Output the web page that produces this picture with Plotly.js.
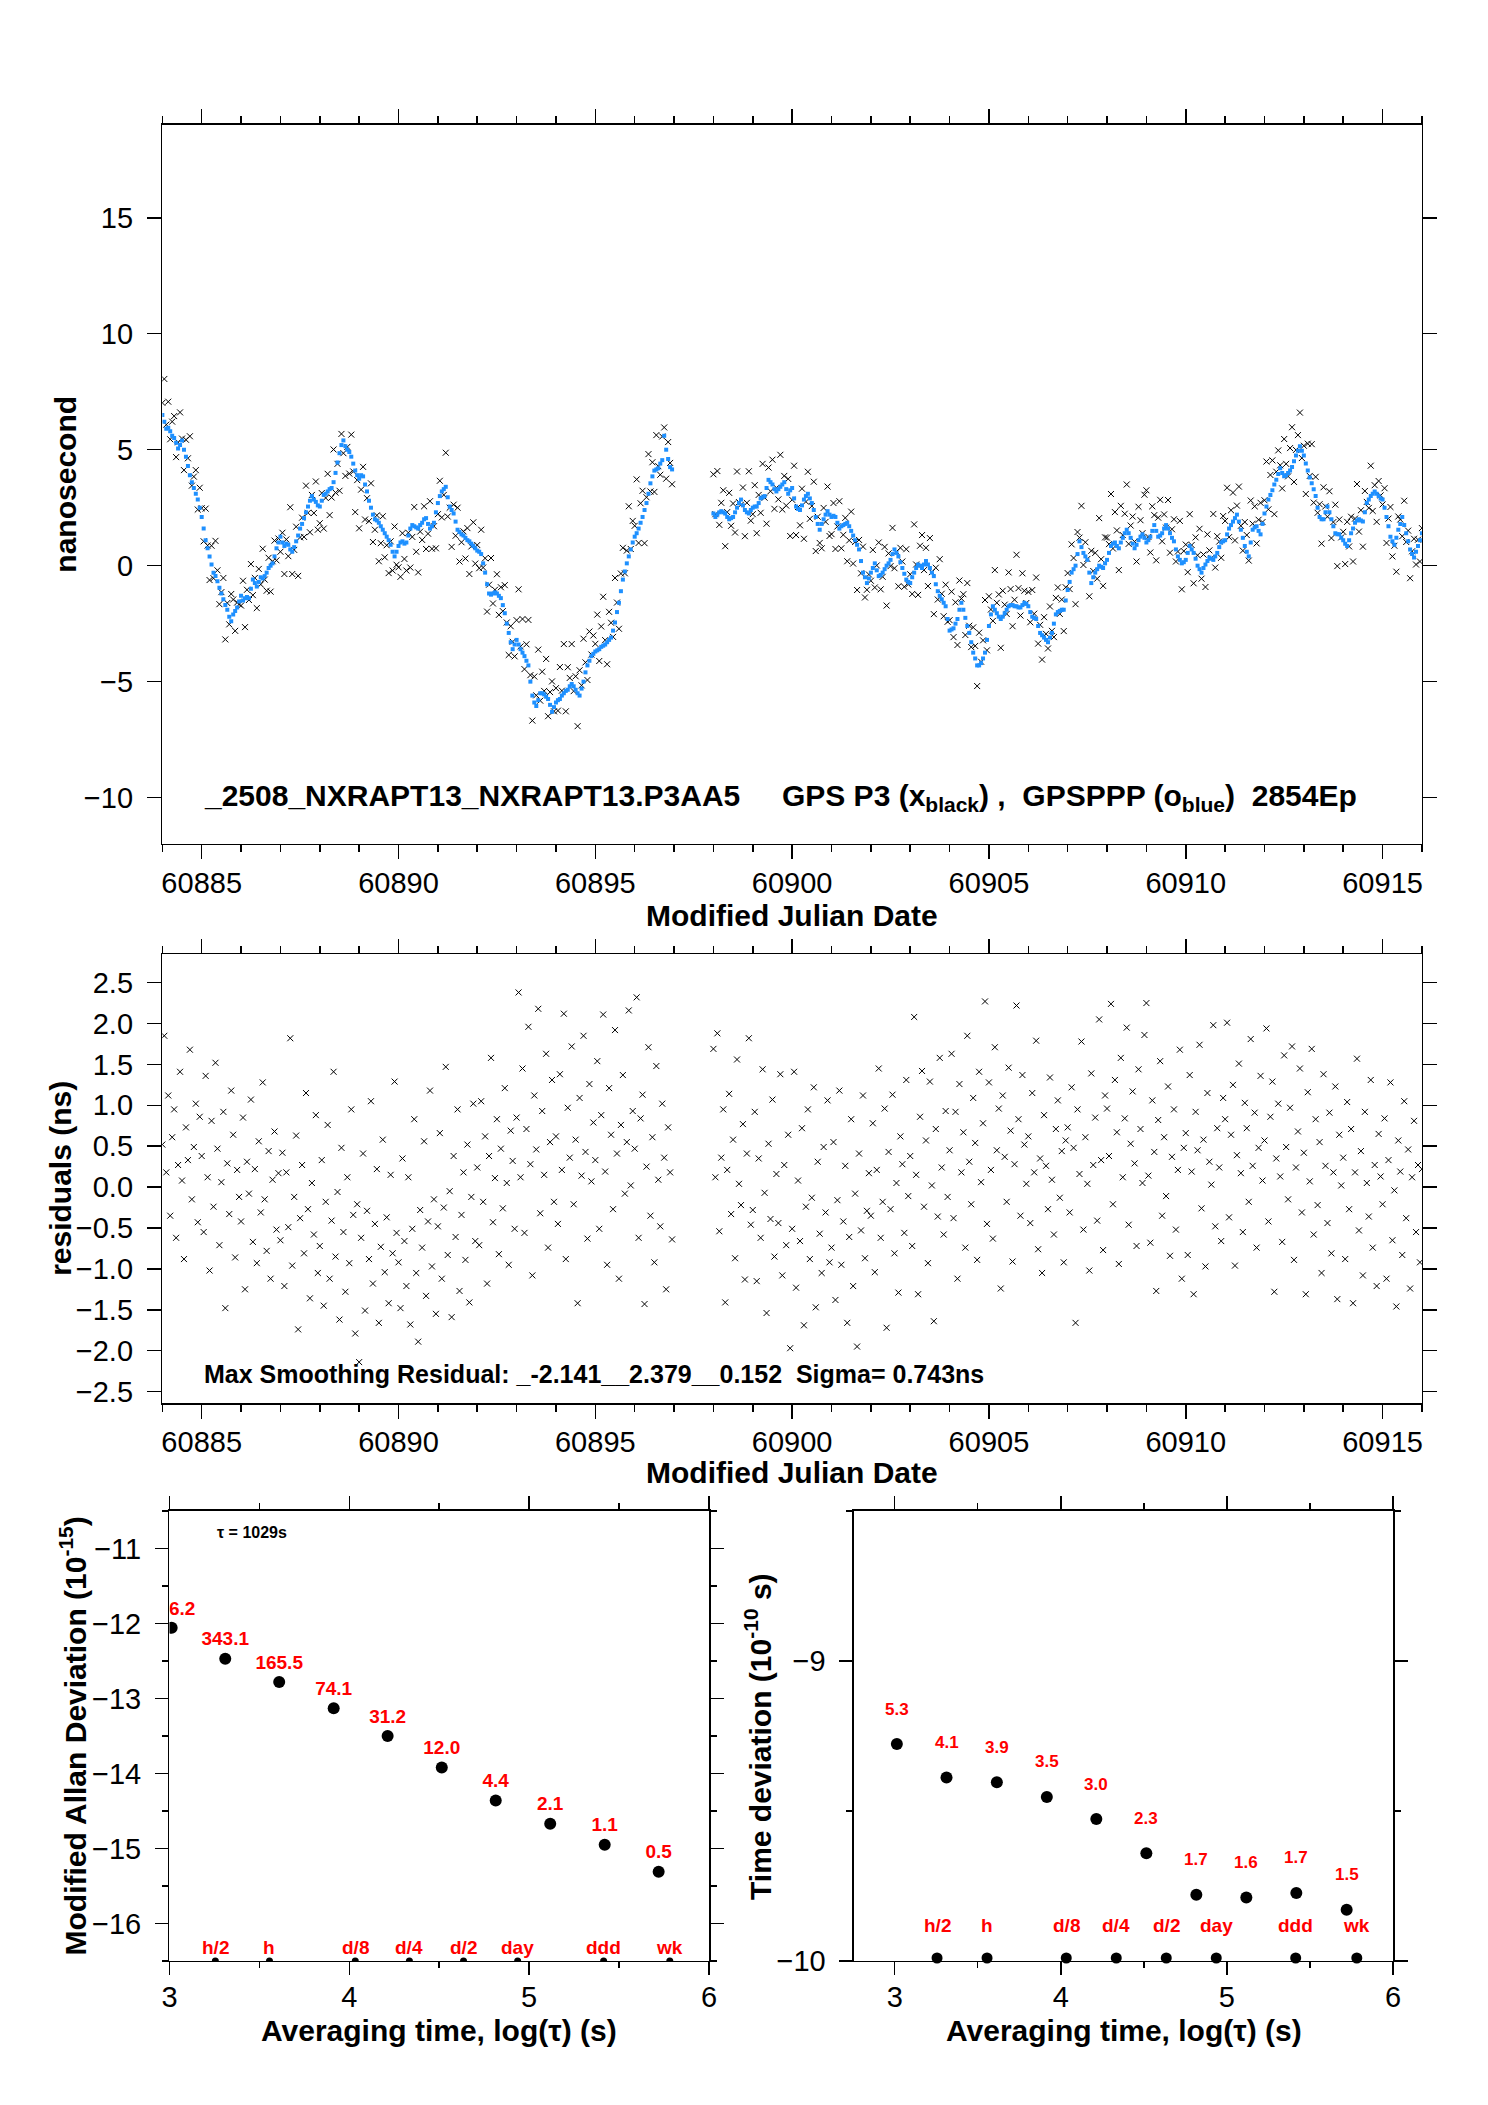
<!DOCTYPE html>
<html><head><meta charset="utf-8">
<script src="https://cdn.plot.ly/plotly-3.0.1.min.js"></script>
<style>html,body{margin:0;padding:0;background:#fff}#chart{width:1488px;height:2105px}</style>
</head><body><div id="chart"></div>
<script>
// ---------- DATA ----------
// epochs: two continuous segments sampled every 0.05 d (gap between them)
const epochStepDays = 0.05;
const segmentStartMJD = [60884.0, 60898.0];

// GPSPPP (blue) clock offset, ns, segment A (60884.00 .. 60896.95)
const gpsPPP_A = [
6.5,6.2,5.9,5.95,5.8,5.6,5.5,5.3,5.05,5.2,5.4,5.0,4.7,4.3,3.9,3.6,3.35,3.1,2.85,2.5,
2.1,1.6,1.1,0.75,0.4,0.05,-0.3,-0.45,-0.67,-0.95,-1.2,-1.45,-1.7,-1.9,-2.2,-2.4,-2.1,-1.95,-1.8,-1.55,
-1.3,-1.5,-1.4,-1.35,-1.4,-1.0,-0.6,-0.75,-0.9,-0.7,-0.5,-0.55,-0.45,-0.3,-0.1,0.0,0.1,0.4,0.75,1.0,
1.25,1.0,0.85,0.95,0.9,0.7,0.6,0.8,1.05,1.3,1.6,1.8,2.05,2.3,2.55,2.8,3.0,2.85,2.75,2.6,
2.55,2.8,3.05,3.1,3.2,3.3,3.35,3.6,4.0,4.45,4.85,5.2,5.4,5.15,5.0,4.9,4.7,4.4,4.1,3.9,
3.75,3.9,3.85,3.5,3.2,2.8,2.5,2.2,2.0,1.95,1.85,1.7,1.55,1.4,1.25,1.1,0.9,0.6,0.4,0.6,
0.85,1.0,1.05,0.95,1.0,1.3,1.6,1.75,1.7,1.65,1.6,1.75,1.85,2.0,2.05,1.8,1.6,1.7,1.85,2.3,
2.7,3.0,3.2,3.3,3.4,2.95,2.55,2.4,2.25,1.9,1.55,1.45,1.35,1.3,1.2,1.1,1.05,0.95,0.85,0.75,
0.65,0.6,0.5,0.1,-0.3,-0.8,-1.2,-1.25,-1.2,-1.15,-1.2,-1.3,-1.4,-1.7,-2.05,-2.5,-2.9,-3.3,-3.6,-3.4,
-3.2,-3.4,-3.6,-3.75,-3.9,-4.1,-4.3,-5.0,-5.6,-5.9,-6.05,-5.8,-5.5,-5.5,-5.55,-5.65,-5.75,-6.0,-6.3,-6.1,
-5.9,-5.8,-5.75,-5.6,-5.5,-5.4,-5.35,-5.2,-5.1,-5.2,-5.35,-5.5,-5.6,-5.3,-5.0,-4.6,-4.3,-4.1,-3.9,-3.8,
-3.7,-3.65,-3.6,-3.5,-3.45,-3.4,-3.3,-3.2,-3.1,-2.8,-2.45,-2.0,-1.6,-1.1,-0.6,-0.25,0.1,0.4,0.7,1.0,
1.25,1.4,1.6,1.85,2.1,2.4,2.7,3.1,3.55,3.85,4.1,4.15,4.2,4.4,4.55,5.6,5.0,4.6,4.25,4.15
];
// GPSPPP (blue), segment B (60898.00 .. 60916.00)
const gpsPPP_B = [
2.25,2.1,2.2,2.3,2.35,2.3,2.25,2.1,2.0,2.05,2.1,2.3,2.5,2.7,2.85,2.6,2.4,2.3,2.25,2.4,
2.5,2.55,2.55,2.7,2.9,2.95,3.0,3.35,3.7,3.6,3.5,3.3,3.2,3.3,3.4,3.5,3.6,3.3,3.1,3.25,
3.35,2.9,2.55,2.45,2.4,2.6,2.85,3.0,3.1,2.9,2.7,2.4,2.1,1.8,1.55,1.8,2.0,2.2,2.35,2.2,
2.1,2.15,2.1,1.85,1.6,1.7,1.75,1.8,1.85,1.7,1.5,1.3,1.1,0.9,0.7,0.2,-0.3,-0.5,-0.75,-0.55,
-0.3,-0.1,0.1,-0.2,-0.45,-0.4,-0.3,-0.15,0.0,0.1,0.25,0.5,0.7,0.55,0.4,0.15,-0.1,-0.35,-0.6,-0.7,
-0.75,-0.5,-0.3,-0.1,0.05,0.0,-0.1,0.05,0.2,0.05,-0.1,-0.3,-0.45,-0.8,-1.1,-1.3,-1.45,-1.6,-1.75,-2.3,
-2.8,-2.75,-2.7,-2.5,-2.3,-1.9,-1.6,-1.9,-2.25,-2.6,-2.9,-3.3,-3.75,-4.0,-4.3,-4.3,-4.2,-4.0,-3.75,-3.2,
-2.6,-2.1,-1.75,-1.9,-2.05,-2.2,-2.3,-2.2,-2.05,-1.9,-1.75,-1.7,-1.7,-1.75,-1.75,-1.8,-1.8,-1.7,-1.6,-1.65,
-1.75,-2.0,-2.2,-2.25,-2.3,-2.6,-2.9,-3.0,-3.1,-3.2,-3.3,-3.1,-2.9,-2.5,-2.1,-2.0,-1.95,-1.9,-1.9,-1.5,
-1.05,-0.7,-0.3,-0.15,0.0,0.5,1.05,0.8,0.55,0.4,0.25,-0.3,-0.75,-0.5,-0.3,-0.15,0.0,-0.05,-0.1,0.1,
0.25,0.55,0.85,0.95,1.0,0.85,0.75,1.0,1.2,1.4,1.55,1.4,1.2,0.95,0.75,0.9,1.1,1.25,1.35,1.2,
1.0,1.1,1.25,1.5,1.75,1.5,1.25,1.3,1.4,1.6,1.75,1.6,1.4,1.2,1.05,0.7,0.4,0.25,0.1,0.15,
0.25,0.55,0.85,0.7,0.55,0.3,0.0,-0.15,-0.3,-0.1,0.05,0.2,0.35,0.3,0.25,0.4,0.55,0.8,1.0,1.05,
1.1,1.35,1.6,1.75,1.9,2.05,2.2,1.9,1.55,1.2,0.85,0.6,0.4,1.0,1.55,1.65,1.7,1.5,1.35,1.8,
2.25,2.55,2.85,3.05,3.25,3.5,3.7,3.95,4.2,4.0,3.85,3.9,4.0,4.1,4.25,4.5,4.75,4.95,5.15,4.95,
4.75,4.4,4.1,3.8,3.55,3.3,3.0,2.5,2.1,2.0,2.0,2.3,2.55,2.3,2.0,1.7,1.4,1.35,1.35,1.2,
1.1,0.95,0.85,1.1,1.4,1.6,1.85,1.95,2.0,1.95,1.9,2.3,2.7,2.85,3.0,3.1,3.2,3.1,3.0,2.9,
2.85,2.5,2.1,1.7,1.25,1.05,0.9,1.2,1.55,1.8,2.1,1.75,1.4,1.05,0.7,0.5,0.35,0.6,0.85,1.1,
1.4
];
// smoothing residuals (GPS P3 minus smoothed), ns, segment A
const resid_A = [
0.52,1.85,0.18,1.12,-0.35,0.61,0.95,-0.62,0.27,1.41,0.08,-0.88,0.73,0.33,1.68,-0.15,0.49,1.02,-0.43,0.86,
0.38,-0.55,1.36,0.12,-1.02,0.81,-0.24,1.52,0.47,-0.71,0.06,0.92,-1.48,0.29,-0.33,1.18,0.64,-0.86,0.21,-0.12,
-0.42,0.85,-1.25,0.31,-0.08,1.07,-0.67,0.22,-0.93,0.56,-0.31,1.28,-0.15,-0.78,0.44,-1.12,0.09,0.68,-0.52,0.17,
-0.65,0.42,-1.21,0.18,-0.49,1.82,-0.96,-0.12,0.63,-1.74,-0.38,0.27,-0.81,1.15,-0.27,-1.36,0.05,-0.58,0.88,-1.05,
-0.72,0.33,-1.45,-0.18,0.76,-1.12,-0.41,1.41,-0.85,-0.06,-1.62,0.48,-0.55,-1.28,0.12,-0.93,0.95,-0.34,-1.79,-0.21,
-2.14,-0.62,0.41,-1.51,-0.29,-0.88,1.05,-1.18,-0.45,0.22,-1.66,-0.73,0.58,-1.04,-0.37,-1.42,0.15,-0.81,1.29,-0.56,
-0.92,-1.48,0.35,-0.66,-1.21,0.12,-1.68,-0.51,0.83,-1.05,-1.89,-0.28,-0.74,0.56,-1.33,-0.42,1.18,-0.97,-0.15,-1.55,
-0.48,0.66,-1.12,-0.25,1.47,-0.83,-0.05,-1.59,0.38,-0.61,0.95,-1.27,-0.34,0.18,-0.89,0.52,-1.41,-0.12,1.02,-0.66,
0.24,-0.71,1.05,-0.18,0.62,-1.18,0.38,1.58,-0.43,0.11,0.83,-0.82,0.47,-0.26,1.21,0.05,-0.95,0.69,0.32,-0.51,
0.85,2.38,0.12,1.45,-0.56,0.71,1.96,0.28,-1.08,1.12,0.46,2.18,-0.32,0.93,0.15,1.63,-0.74,0.55,1.31,-0.18,
0.62,-0.45,1.38,0.21,2.12,-0.88,0.97,0.36,1.72,-0.21,0.58,-1.42,1.09,0.14,1.85,0.43,-0.63,1.26,0.07,0.79,
0.33,1.54,-0.51,0.88,2.11,0.19,-0.95,1.21,0.64,-0.27,1.92,0.41,-1.12,0.76,1.37,-0.08,0.55,2.16,0.02,0.93,
0.47,2.32,-0.62,0.84,1.13,-1.43,0.25,1.71,-0.35,0.61,-0.92,1.48,0.09,-0.48,1.02,0.36,-1.25,0.73,0.18,-0.64
];
// smoothing residuals, segment B
const resid_B = [
1.69,0.12,1.88,-0.54,0.36,0.95,-1.41,0.21,1.14,-0.33,0.58,-0.87,1.56,0.04,-0.22,0.77,-1.13,0.41,1.82,-0.46,
-0.28,0.92,-1.15,0.35,-0.62,1.44,-0.07,-1.54,0.53,-0.39,1.07,-0.85,0.16,-0.44,1.38,-1.08,0.27,-0.71,0.64,-1.97,
-0.51,1.41,-1.23,0.08,-0.66,0.72,-1.69,-0.24,0.95,-0.88,-0.13,1.22,-1.47,0.31,-0.57,-1.05,0.49,-0.31,1.06,-0.92,
-0.74,0.55,-1.38,-0.16,1.18,-0.95,-0.42,0.26,-1.66,-0.61,0.83,-1.21,-0.08,-1.95,0.41,-0.53,1.12,-0.87,-0.29,0.17,
-0.35,0.78,-1.04,0.21,1.45,-0.62,-0.18,0.96,-1.72,0.43,-0.27,1.13,-0.81,0.05,-1.29,0.62,0.28,-0.56,1.31,-0.11,
0.38,-0.72,2.08,0.15,-1.31,0.86,1.42,-0.24,0.57,-0.93,1.29,0.02,-1.64,0.71,-0.36,1.58,0.24,-0.58,0.93,-0.12,
0.45,1.63,-0.38,0.92,-1.12,1.26,0.18,0.67,-0.74,1.85,0.31,-0.21,1.09,0.54,-0.89,1.41,0.06,0.78,2.27,-0.45,
1.28,0.21,-0.63,1.71,0.45,0.96,-1.24,1.12,0.37,-0.18,1.46,0.69,-0.91,0.28,2.22,0.83,-0.35,1.37,0.52,0.04,
0.62,-0.44,1.15,0.18,1.79,-0.76,0.35,-1.05,0.88,0.26,-0.27,1.34,0.09,-0.58,0.71,1.06,-0.13,0.44,-0.92,0.57,
0.73,-0.31,1.22,0.48,-1.66,0.95,0.16,1.78,-0.52,0.61,0.04,-1.02,1.39,0.27,0.85,-0.41,2.05,0.33,-0.77,1.12,
0.96,0.38,2.24,-0.21,1.31,0.67,-0.94,1.58,0.12,0.84,1.95,-0.46,0.53,1.17,0.29,-0.72,1.44,0.71,0.05,1.86,
2.25,0.14,-0.68,1.06,0.43,-1.27,0.82,1.54,-0.35,0.61,-0.11,1.23,-0.84,0.37,0.95,-0.52,0.21,1.68,-1.12,0.48,
0.66,-0.83,1.37,0.19,-1.31,0.92,0.45,1.74,-0.26,0.58,-0.97,1.15,0.31,0.03,1.98,-0.48,0.72,0.24,-0.66,1.09,
0.83,2.01,-0.37,0.64,1.25,-0.96,0.39,1.51,0.17,-0.55,1.03,0.72,-0.18,1.81,0.26,0.91,-0.74,0.48,1.36,0.08,
0.57,1.94,-0.42,0.86,1.29,-1.28,0.35,1.02,0.13,-0.67,1.61,0.49,-0.15,0.97,1.72,-0.89,0.24,0.68,1.45,-0.31,
0.42,-1.31,1.16,0.07,1.69,-0.58,0.83,-0.22,0.55,-1.05,1.38,0.26,-0.44,0.91,-0.81,0.18,1.23,-1.37,0.64,0.02,
0.36,-0.88,1.04,-0.27,0.71,-1.42,0.18,1.57,-0.53,0.44,-1.08,0.92,0.05,-0.36,1.31,-0.74,0.27,-1.21,0.65,0.13,
-0.21,0.84,-1.12,0.33,1.28,-0.65,-0.04,-1.46,0.57,0.19,-0.83,1.05,-0.38,0.46,-1.24,0.12,0.81,-0.55,0.27,-0.92,
0.22
];

// Modified Allan deviation panel
const madevLogTau = [3.012, 3.31, 3.61, 3.913, 4.213, 4.514, 4.814, 5.117, 5.42, 5.72];
const madevLog = [-12.057, -12.47, -12.78, -13.13, -13.50, -13.92, -14.36, -14.67, -14.95, -15.31];
const madevLabels = ['876.2','343.1','165.5','74.1','31.2','12.0','4.4','2.1','1.1','0.5'];

// Time deviation panel
const tdevLogTau = [3.013, 3.312, 3.615, 3.916, 4.214, 4.515, 4.816, 5.117, 5.418, 5.721];
const tdevLog = [-9.277, -9.388, -9.404, -9.453, -9.527, -9.641, -9.779, -9.788, -9.773, -9.829];
const tdevLabels = ['5.3','4.1','3.9','3.5','3.0','2.3','1.7','1.6','1.7','1.5'];

// reference averaging-time markers
const refLogTau = [3.255, 3.556, 4.033, 4.334, 4.635, 4.936, 5.414, 5.782];
const refLabels = ['h/2','h','d/8','d/4','d/2','day','ddd','wk'];

// x-axis tick values (labels)
const mjdTicks = [60885, 60890, 60895, 60900, 60905, 60910, 60915];

// ---------- BUILD ----------
const FONT = 'Liberation Sans, Arial, Helvetica, sans-serif';
function buildTimes(start, n){ const t=[]; for(let i=0;i<n;i++) t.push(Math.round((start + i*epochStepDays)*1000)/1000); return t; }
const nA = Math.min(gpsPPP_A.length, resid_A.length);
const nB = Math.min(gpsPPP_B.length, resid_B.length);
const tA = buildTimes(segmentStartMJD[0], nA);
const tB = buildTimes(segmentStartMJD[1], nB);
const tAll = tA.concat(tB);
const pppAll = gpsPPP_A.slice(0,nA).concat(gpsPPP_B.slice(0,nB));
const residAll = resid_A.slice(0,nA).concat(resid_B.slice(0,nB));
const p3All = pppAll.map((v,i)=> Math.round((v + residAll[i])*1000)/1000);

const traces = [
  {x:tAll, y:p3All, xaxis:'x', yaxis:'y', type:'scatter', mode:'markers',
   marker:{symbol:'x-thin', size:6, color:'black', line:{color:'black', width:1}}, cliponaxis:true},
  {x:tAll, y:pppAll, xaxis:'x', yaxis:'y', type:'scatter', mode:'markers',
   marker:{symbol:'square', size:4, color:'#1e90ff', line:{width:0}}, cliponaxis:true},
  {x:tAll, y:residAll, xaxis:'x2', yaxis:'y2', type:'scatter', mode:'markers',
   marker:{symbol:'x-thin', size:6, color:'black', line:{color:'black', width:1}}, cliponaxis:true},
  {x:madevLogTau, y:madevLog, xaxis:'x3', yaxis:'y3', type:'scatter', mode:'markers+text',
   text:madevLabels, textposition:'top center',
   textfont:{family:FONT, size:19, color:'#ff0000', weight:'bold'},
   marker:{symbol:'circle', size:12, color:'black'}, cliponaxis:true},
  {x:refLogTau, y:refLogTau.map(()=> -16.5), xaxis:'x3', yaxis:'y3', type:'scatter', mode:'markers',
   marker:{symbol:'circle', size:7, color:'black'}, cliponaxis:true},
  {x:tdevLogTau, y:tdevLog, xaxis:'x4', yaxis:'y4', type:'scatter', mode:'markers',
   marker:{symbol:'circle', size:12, color:'black'}, cliponaxis:true},
  {x:refLogTau, y:refLogTau.map(()=> -9.99), xaxis:'x4', yaxis:'y4', type:'scatter', mode:'markers',
   marker:{symbol:'circle', size:11, color:'black'}, cliponaxis:false}
];

function ax(extra){
  return Object.assign({showline:true, linecolor:'black', linewidth:1.5, mirror:'ticks',
    ticks:'outside', tickcolor:'black', tickwidth:1.5, showgrid:false, zeroline:false,
    tickfont:{family:FONT, size:29, color:'black'}, fixedrange:true}, extra);
}
const minorMJD = {tick0:60884, dtick:1, ticklen:7, ticks:'outside', tickcolor:'black', tickwidth:1.5};
const minorHalf = {tick0:0, dtick:0.5, ticklen:6, ticks:'outside', tickcolor:'black', tickwidth:1.5};

const topDom = [0.59905, 0.94062], midDom = [0.33349, 0.54679], botDom = [0.06841, 0.28219];
const xDomMain = [0.1091, 0.9556];

const annotations = [];
function title(text, x, y, angle){
  annotations.push({text:'<b>'+text+'</b>', xref:'paper', yref:'paper', x:x, y:y, xanchor:'center', yanchor:'middle',
    showarrow:false, textangle:angle||0, font:{family:FONT, size:30, color:'black'}});
}
title('nanosecond', 0.0444, 0.7698, -90);
title('Modified Julian Date', 0.5323, 0.5653);
title('residuals (ns)', 0.0405, 0.4401, -90);
title('Modified Julian Date', 0.5323, 0.3007);
title('Modified Allan Deviation (10<sup>-15</sup>)', 0.0494, 0.1753, -90);
title('Averaging time, log(τ) (s)', 0.2950, 0.0356);
title('Time deviation (10<sup>-10</sup> s)', 0.5094, 0.1753, -90);
title('Averaging time, log(τ) (s)', 0.7554, 0.0356);

const NB = '\u00a0';
annotations.push({xref:'x', yref:'y', x:60885, y:-10, xanchor:'left', yanchor:'middle', showarrow:false,
  text:'<b>_2508_NXRAPT13_NXRAPT13.P3AA5'+NB.repeat(5)+'GPS P3 (x<sub>black</sub>) ,'+NB.repeat(2)+'GPSPPP (o<sub>blue</sub>)'+NB.repeat(2)+'2854Ep</b>',
  font:{family:FONT, size:30, color:'black'}});
annotations.push({xref:'x2', yref:'y2', x:60885, y:-2.29, xanchor:'left', yanchor:'middle', showarrow:false,
  text:'<b>Max Smoothing Residual: _-2.141__2.379__0.152'+NB.repeat(2)+'Sigma= 0.743ns</b>',
  font:{family:FONT, size:25, color:'black'}});
annotations.push({xref:'x3', yref:'y3', x:3.459, y:-10.79, xanchor:'center', yanchor:'middle', showarrow:false,
  text:'<b>τ = 1029s</b>', font:{family:FONT, size:16, color:'black'}});

refLogTau.forEach((v,i)=>{
  annotations.push({xref:'x3', yref:'y3', x:v, y:-16.5, xanchor:'center', yanchor:'middle', yshift:14, showarrow:false,
    text:'<b>'+refLabels[i]+'</b>', font:{family:FONT, size:19, color:'#ff0000'}});
  annotations.push({xref:'x4', yref:'y4', x:v, y:-10, xanchor:'center', yanchor:'middle', yshift:36, showarrow:false,
    text:'<b>'+refLabels[i]+'</b>', font:{family:FONT, size:19, color:'#ff0000'}});
});
tdevLogTau.forEach((v,i)=>{
  annotations.push({xref:'x4', yref:'y4', x:v, y:tdevLog[i], xanchor:'center', yanchor:'middle', yshift:35, showarrow:false,
    text:'<b>'+tdevLabels[i]+'</b>', font:{family:FONT, size:17, color:'#ff0000'}});
});

const layout = {
  width:1488, height:2105, margin:{l:0,r:0,t:0,b:0}, showlegend:false,
  paper_bgcolor:'white', plot_bgcolor:'white', font:{family:FONT, color:'black'},
  xaxis: ax({domain:xDomMain, anchor:'y', range:[60884,60916], tickvals:mjdTicks, ticklen:14, tickformat:'d', minor:minorMJD, ticklabelstandoff:-1}),
  yaxis: ax({domain:topDom, anchor:'x', range:[-12,19], tick0:0, dtick:5, ticklen:14, ticklabelstandoff:8}),
  xaxis2: ax({domain:xDomMain, anchor:'y2', range:[60884,60916], tickvals:mjdTicks, ticklen:14, tickformat:'d', minor:minorMJD, ticklabelstandoff:-1}),
  yaxis2: ax({domain:midDom, anchor:'x2', range:[-2.64,2.85], tick0:0, dtick:0.5, tickformat:'.1f', ticklen:14, ticklabelstandoff:8}),
  xaxis3: ax({domain:[0.11391,0.47648], anchor:'y3', range:[3,6], tick0:0, dtick:1, ticklen:13, minor:minorHalf, ticklabelstandoff:-3}),
  yaxis3: ax({domain:botDom, anchor:'x3', range:[-16.5,-10.5], tick0:0, dtick:1, ticklen:13, minor:minorHalf, ticklabelstandoff:8}),
  xaxis4: ax({domain:[0.57392,0.93616], anchor:'y4', range:[2.755,6], tick0:0, dtick:1, ticklen:13, minor:minorHalf, ticklabelstandoff:-3}),
  yaxis4: ax({domain:botDom, anchor:'x4', range:[-10,-8.5], tick0:0, dtick:1, ticklen:13, minor:minorHalf, ticklabelstandoff:8}),
  annotations: annotations
};

Plotly.newPlot('chart', traces, layout, {staticPlot:true, displayModeBar:false});
</script>
</body></html>
